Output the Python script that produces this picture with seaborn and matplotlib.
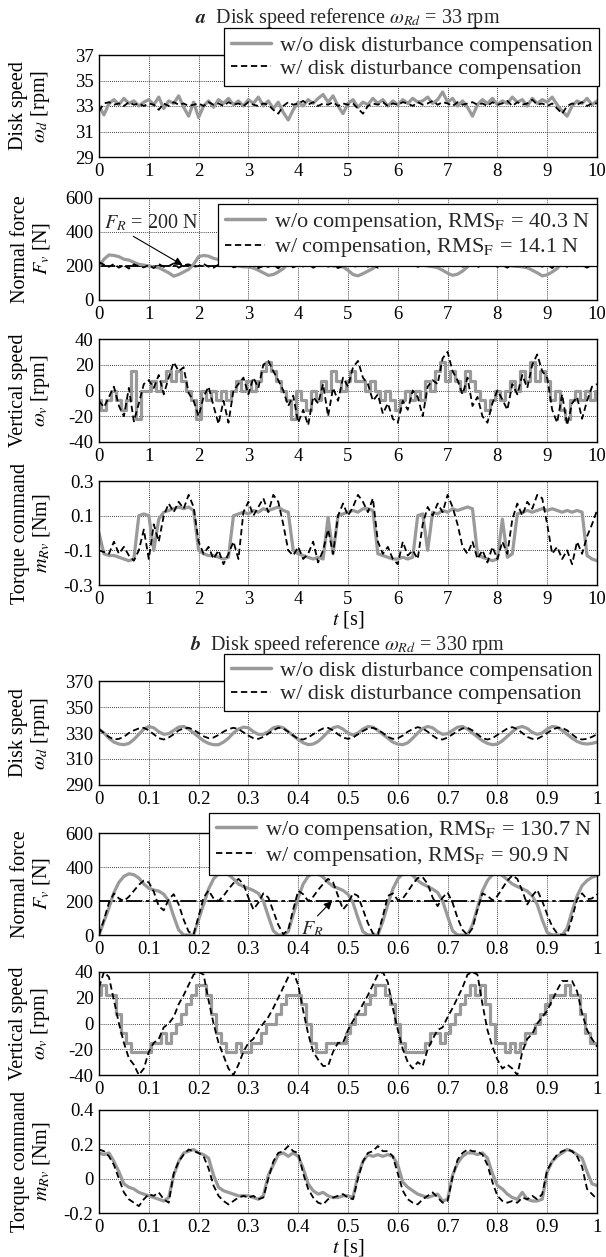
import numpy as np
import matplotlib
matplotlib.use('Agg')
import matplotlib.pyplot as plt
import seaborn as sns
from matplotlib.lines import Line2D

sns.set_theme(style='white')
plt.rcParams['font.family'] = ['Liberation Serif', 'DejaVu Serif']
plt.rcParams['mathtext.fontset'] = 'stix'
plt.rcParams['font.size'] = 13
plt.rcParams['axes.unicode_minus'] = False

# ---------------- data: panel a (omega_Rd = 33 rpm), t = 0..10 s step 0.1 ----------------
a_t = np.linspace(0, 10, 101)

a_speed_wo = [33.0, 32.3, 33.2, 33.5, 33.1, 33.6, 33.2, 33.4, 33.0, 33.3,
              33.5, 33.1, 33.7, 32.8, 33.4, 33.2, 33.8, 32.9, 32.2, 33.3,
              32.1, 33.0, 33.4, 32.9, 33.5, 33.2, 33.6, 33.1, 33.4, 33.0,
              33.5, 33.2, 33.7, 33.0, 33.4, 32.8, 33.3, 32.5, 31.9, 32.7,
              33.3, 33.0, 33.5, 33.2, 33.6, 33.9, 33.3, 33.8, 33.0, 32.4,
              33.2, 33.5, 32.9, 33.3, 33.1, 33.6, 33.2, 33.5, 33.0, 33.4,
              33.1, 33.5, 33.2, 33.6, 33.3, 33.4, 33.7, 33.2, 33.5, 34.1,
              33.3, 33.6, 33.0, 33.4, 32.9, 32.2, 33.1, 33.5, 33.2, 33.6,
              33.1, 33.4, 33.2, 33.7, 33.3, 33.5, 33.0, 33.6, 33.2, 33.5,
              33.3, 33.7, 33.1, 32.6, 32.2, 33.0, 33.4, 33.2, 33.6, 33.1,
              33.4]
a_speed_w = [32.6, 33.2, 33.3, 33.1, 33.2, 33.0, 33.3, 33.1, 33.2, 33.0,
             33.2, 33.1, 32.7, 33.2, 33.0, 33.3, 33.1, 33.2, 33.0, 33.1,
             33.2, 33.0, 33.3, 33.1, 33.2, 33.0, 33.3, 33.1, 33.2, 33.0,
             33.3, 33.1, 33.0, 33.2, 33.1, 32.7, 32.4, 33.0, 33.3, 33.1,
             33.2, 33.4, 33.1, 33.3, 33.0, 33.2, 33.1, 33.3, 33.0, 33.2,
             33.1, 33.2, 32.8, 32.4, 33.0, 33.2, 33.1, 33.3, 33.0, 33.2,
             33.1, 33.3, 33.2, 33.0, 33.3, 33.1, 33.2, 33.4, 33.1, 33.3,
             33.2, 33.0, 33.3, 33.1, 33.2, 33.3, 33.1, 33.2, 33.0, 33.3,
             33.1, 33.2, 33.4, 33.0, 33.3, 33.1, 33.2, 33.5, 33.1, 33.2,
             33.0, 33.2, 32.8, 32.4, 33.0, 33.2, 33.1, 33.3, 33.0, 33.2,
             33.2]
a_force_wo = [200, 240, 265, 262, 255, 240, 235, 222, 210, 205,
              200, 195, 190, 175, 160, 140, 150, 165, 180, 210,
              255, 262, 258, 245, 238, 225, 212, 205, 200, 195,
              195, 188, 175, 160, 145, 150, 165, 185, 215, 262,
              265, 258, 250, 238, 228, 215, 208, 200, 198, 195,
              175, 150, 142, 155, 170, 185, 210, 240, 262, 260,
              255, 245, 235, 222, 212, 205, 200, 196, 190, 175,
              158, 145, 152, 170, 195, 240, 265, 258, 250, 240,
              228, 215, 208, 200, 198, 195, 190, 175, 160, 142,
              148, 165, 185, 225, 262, 268, 262, 255, 245, 232,
              225]
a_force_w = [222, 208, 195, 212, 190, 205, 185, 210, 198, 192,
             205, 188, 212, 195, 200, 215, 190, 205, 210, 195,
             200, 212, 196, 190, 208, 200, 214, 192, 198, 205,
             193, 210, 188, 200, 195, 208, 186, 215, 200, 192,
             205, 197, 212, 190, 203, 214, 196, 205, 188, 200,
             210, 192, 203, 215, 196, 205, 190, 212, 198, 205,
             194, 210, 200, 215, 195, 206, 220, 198, 210, 193,
             215, 200, 212, 196, 205, 218, 192, 208, 200, 212,
             195, 205, 190, 210, 198, 215, 192, 205, 210, 196,
             208, 188, 212, 200, 195, 215, 198, 206, 190, 205,
             198]
a_vspeed_wo = [-7.5, -15, -7.5, 0, -7.5, -15, -7.5, 15, -22.5, 0,
               0, 7.5, 0, 7.5, 15, 7.5, 15, 7.5, 0, -7.5,
               -22.5, 0, -7.5, 0, -7.5, 0, -7.5, 0, 7.5, 0,
               7.5, 0, 7.5, 15, 22.5, 15, 7.5, 0, -7.5, -22.5,
               0, -7.5, -15, 0, -7.5, 7.5, 0, 15, 7.5, 0,
               7.5, 15, 7.5, 7.5, 0, 7.5, 0, -7.5, 0, -7.5,
               -15, -7.5, 0, -7.5, 0, -7.5, 7.5, 0, 15, 22.5,
               7.5, 15, 7.5, 0, 15, 7.5, 0, -7.5, -15, -7.5,
               0, -7.5, 0, 7.5, 0, 15, 7.5, 22.5, 7.5, 15,
               7.5, -7.5, 0, -15, -22.5, -7.5, 0, -7.5, 0, -7.5,
               0]
a_vspeed_w = [-8, -13, -5, 3, -12, -20, 2, -24, -10, 5,
              8, 2, 12, -3, 10, 22, 15, 18, -2, -8,
              -20, -5, 3, -12, -26, -8, -25, 0, 5, 10,
              -3, 10, 2, 20, 23, 15, 8, 0, -12, -4,
              -25, -15, -27, -5, -10, 5, -20, 2, -8, 10,
              3, 18, 23, 10, 5, -8, -3, -18, -10, -22,
              -25, -8, -15, 0, -5, -20, 3, 8, 5, 25,
              30, 15, 8, -3, 10, -12, -5, -20, -25, -10,
              0, -7, -15, 5, -3, 12, 2, 20, 28, 15,
              10, -15, -25, -3, -27, -10, -5, -22, -8, 3,
              5]
a_torque_wo = [0.0, -0.12, -0.13, -0.13, -0.14, -0.15, -0.16, -0.15, 0.10, 0.11,
               0.10, -0.10, 0.08, 0.12, 0.13, 0.14, 0.15, 0.14, 0.15, 0.13,
               -0.10, -0.12, -0.13, -0.13, -0.14, -0.15, -0.14, 0.10, 0.11, 0.12,
               0.11, 0.13, 0.12, 0.14, 0.13, 0.14, 0.15, 0.13, 0.12, -0.10,
               -0.12, -0.13, -0.14, -0.15, -0.14, -0.15, 0.09, -0.12, 0.10, 0.11,
               0.12, 0.13, 0.12, 0.14, 0.14, 0.13, -0.12, -0.13, -0.14, -0.15,
               -0.15, -0.14, -0.15, -0.14, 0.10, 0.11, -0.10, 0.12, 0.11, 0.13,
               0.12, 0.14, 0.13, 0.14, 0.15, 0.14, -0.12, -0.14, -0.15, -0.16,
               -0.15, 0.08, -0.14, -0.12, 0.11, 0.12, 0.13, 0.12, 0.13, 0.14,
               0.13, 0.14, 0.13, 0.12, 0.13, 0.12, 0.13, 0.12, -0.13, -0.15,
               -0.16]
a_torque_w = [-0.10, -0.11, -0.12, -0.05, -0.12, -0.08, -0.13, -0.16, -0.10, 0.02,
              -0.15, 0.05, -0.05, 0.10, 0.17, 0.12, 0.18, 0.14, 0.22, 0.15,
              -0.05, -0.12, -0.08, -0.15, -0.10, -0.18, -0.12, -0.05, -0.15, 0.12,
              0.18, 0.10, 0.15, 0.20, 0.12, 0.22, 0.18, 0.05, -0.10, -0.13,
              -0.08, -0.15, -0.12, -0.05, -0.17, -0.10, 0.02, -0.12, 0.10, 0.17,
              0.10, 0.15, 0.22, 0.18, 0.12, 0.20, -0.05, -0.12, -0.08, -0.15,
              -0.18, -0.05, -0.13, -0.10, -0.15, 0.05, 0.15, 0.10, 0.17, 0.12,
              0.22, 0.15, 0.05, -0.08, -0.12, -0.05, -0.15, -0.10, -0.17, -0.08,
              -0.15, -0.05, -0.12, 0.08, 0.17, 0.10, 0.18, 0.14, 0.22, 0.20,
              0.05, -0.12, -0.08, -0.15, -0.10, -0.18, -0.05, -0.12, -0.02, 0.05,
              0.13]

# ---------------- data: panel b (omega_Rd = 330 rpm), t = 0..1 s step 0.01 ----------------
b_t = np.linspace(0, 1, 101)

b_speed_wo = [333, 330, 326, 323, 321.5, 321, 322, 325, 329, 333,
              335, 334, 331, 329, 329.5, 332, 334.5, 335, 333, 330,
              327, 324, 322, 321, 321, 323, 326, 330, 333, 334.5,
              334, 331, 329, 329, 331, 334, 335, 334, 331, 328,
              325, 322.5, 321, 321.5, 323.5, 327, 331, 334, 335, 333,
              330, 328.5, 330, 333, 335, 334.5, 332, 329, 326, 323,
              321.5, 321, 322.5, 326, 330, 333.5, 335, 334, 331, 329,
              329.5, 332, 334.5, 335, 333, 330, 327, 324, 322, 321,
              321.5, 324, 327.5, 331, 334, 335, 333.5, 330.5, 329, 330,
              333, 335, 334.5, 332, 329, 326, 323.5, 322, 321.5, 322,
              323]
b_speed_w = [333, 330, 327, 325, 325.5, 327, 330, 332, 333.5, 334,
             332, 329, 326, 325, 326.5, 329, 332, 333.5, 334, 332.5,
             330, 327.5, 326, 326.5, 328.5, 331, 333, 334, 333, 330.5,
             328, 326, 325.5, 327, 329.5, 332, 334, 333.5, 331, 328,
             325.5, 325, 326.5, 329, 331.5, 333.5, 334, 332, 329, 326.5,
             325.5, 326.5, 329, 331.5, 333.5, 334, 332.5, 330, 327, 325.5,
             326, 328, 331, 333, 334.5, 333.5, 331, 328, 325.5, 325,
             326.5, 329, 331.5, 333.5, 334, 332, 329, 326, 325, 326,
             328.5, 331, 333.5, 334.5, 333, 330, 327, 325.5, 325.5, 327.5,
             330, 332.5, 334, 334, 332, 329, 326, 325, 325.5, 327,
             329]
b_force_wo = [0, 80, 160, 250, 310, 345, 360, 355, 335, 300,
              275, 265, 258, 240, 200, 110, 30, 0, 0, 0,
              90, 180, 270, 330, 360, 368, 355, 330, 300, 285,
              275, 262, 245, 200, 110, 25, 0, 0, 20, 120,
              220, 300, 345, 365, 360, 340, 310, 285, 275, 262,
              240, 190, 100, 20, 0, 0, 0, 80, 180, 270,
              330, 360, 365, 350, 320, 300, 285, 270, 250, 200,
              110, 25, 0, 0, 0, 60, 160, 260, 320, 355,
              362, 350, 325, 300, 285, 272, 258, 230, 180, 90,
              15, 0, 0, 0, 40, 140, 230, 290, 320, 340,
              350]
b_force_w = [0, 90, 190, 245, 215, 200, 225, 260, 295, 320,
             310, 255, 170, 145, 210, 240, 180, 90, 20, 5,
             110, 220, 262, 215, 200, 230, 270, 305, 330, 300,
             220, 150, 190, 245, 220, 140, 60, 5, 30, 150,
             260, 240, 200, 225, 265, 300, 330, 310, 230, 150,
             185, 245, 230, 150, 70, 10, 5, 110, 230, 245,
             205, 215, 255, 300, 335, 340, 300, 220, 170, 220,
             250, 190, 100, 30, 0, 40, 150, 245, 230, 205,
             230, 275, 320, 350, 330, 260, 180, 230, 265, 200,
             120, 50, 10, 0, 5, 100, 210, 245, 210, 215,
             240]
b_vspeed_wo = [22.5, 30, 22.5, 22.5, 7.5, -7.5, -15, -22.5, -22.5, -22.5,
               -22.5, -15, -15, -7.5, -15, -7.5, 0, 7.5, 15, 22.5,
               30, 30, 22.5, 7.5, -7.5, -15, -22.5, -22.5, -15, -22.5,
               -22.5, -15, -15, -7.5, 0, 0, 7.5, 15, 22.5, 22.5,
               22.5, 15, 0, -15, -22.5, -22.5, -15, -15, -15, -15,
               -7.5, 0, 7.5, 7.5, 15, 22.5, 30, 30, 22.5, 15,
               0, -15, -22.5, -22.5, -22.5, -22.5, -15, -7.5, -7.5, -15,
               -7.5, 0, 7.5, 15, 22.5, 30, 22.5, 30, 15, 0,
               -15, -15, -22.5, -15, -22.5, -15, -7.5, -7.5, 0, 7.5,
               15, 22.5, 22.5, 22.5, 30, 22.5, 22.5, 7.5, -7.5, -15,
               -15]
b_vspeed_w = [28, 40, 36, 18, 0, -15, -27, -32, -40, -35,
              -22, -15, -12, -3, 0, 5, 15, 22, 30, 38,
              40, 38, 18, 0, -15, -25, -35, -40, -32, -22,
              -15, -12, -5, 0, 5, 12, 20, 28, 36, 40,
              30, 10, -8, -22, -28, -33, -33, -22, -15, -15,
              -5, 2, 8, 15, 22, 30, 38, 40, 32, 12,
              -5, -20, -30, -35, -30, -33, -20, -12, -5, -3,
              5, 12, 20, 28, 38, 40, 38, 15, -5, -18,
              -28, -35, -32, -35, -40, -22, -12, -8, 0, 5,
              10, 18, 26, 33, 33, 33, 25, 8, -5, -12,
              -18]
b_torque_wo = [0.15, 0.14, 0.15, 0.10, 0.04, -0.03, -0.05, -0.06, -0.08, -0.09,
               -0.10, -0.11, -0.12, -0.13, -0.11, 0.02, 0.10, 0.15, 0.16, 0.17,
               0.15, 0.14, 0.12, 0.02, -0.05, -0.07, -0.08, -0.09, -0.10, -0.10,
               -0.10, -0.11, -0.12, -0.10, 0.02, 0.08, 0.14, 0.15, 0.13, 0.15,
               0.13, 0.06, -0.03, -0.07, -0.09, -0.08, -0.10, -0.11, -0.11, -0.10,
               -0.10, -0.11, 0.02, 0.10, 0.14, 0.13, 0.14, 0.13, 0.14, 0.13,
               0.08, -0.02, -0.05, -0.07, -0.09, -0.10, -0.11, -0.10, -0.09, -0.13,
               -0.12, 0.02, 0.09, 0.13, 0.15, 0.15, 0.14, 0.15, 0.12, 0.03,
               -0.04, -0.06, -0.09, -0.11, -0.12, -0.08, -0.12, -0.13, -0.13, -0.12,
               0.04, 0.10, 0.13, 0.15, 0.17, 0.16, 0.14, 0.12, 0.04, -0.03,
               -0.04]
b_torque_w = [0.17, 0.16, 0.13, 0.08, 0.0, -0.08, -0.12, -0.14, -0.16, -0.12,
              -0.09, -0.10, -0.08, -0.12, -0.14, 0.03, 0.10, 0.14, 0.17, 0.16,
              0.15, 0.13, 0.06, -0.04, -0.10, -0.13, -0.15, -0.13, -0.11, -0.10,
              -0.11, -0.10, -0.12, -0.11, 0.0, 0.10, 0.15, 0.16, 0.19, 0.16,
              0.15, 0.03, -0.06, -0.11, -0.14, -0.15, -0.12, -0.11, -0.10, -0.09,
              -0.11, -0.12, 0.0, 0.10, 0.15, 0.16, 0.19, 0.16, 0.16, 0.13,
              0.03, -0.07, -0.12, -0.14, -0.15, -0.12, -0.10, -0.08, -0.11, -0.14,
              -0.13, 0.01, 0.11, 0.15, 0.17, 0.16, 0.16, 0.14, 0.08, -0.02,
              -0.10, -0.13, -0.14, -0.13, -0.14, -0.11, -0.12, -0.10, -0.12, -0.09,
              0.05, 0.10, 0.14, 0.16, 0.17, 0.16, 0.13, 0.07, -0.06, -0.09,
              -0.12]

force_ref = 200

a_xticks = [0, 1, 2, 3, 4, 5, 6, 7, 8, 9, 10]
a_xticklabels = ['0', '1', '2', '3', '4', '5', '6', '7', '8', '9', '10']
b_xticks = [0, 0.1, 0.2, 0.3, 0.4, 0.5, 0.6, 0.7, 0.8, 0.9, 1.0]
b_xticklabels = ['0', '0.1', '0.2', '0.3', '0.4', '0.5', '0.6', '0.7', '0.8', '0.9', '1']

ylabels = ['Disk speed\n$\\omega_d$ [rpm]', 'Normal force\n$F_v$ [N]',
           'Vertical speed\n$\\omega_v$ [rpm]', 'Torque command\n$m_{Rv}$ [Nm]']

leg_disk = ['w/o disk disturbance compensation', 'w/ disk disturbance compensation']
leg_a_force = ['w/o compensation, RMS$_\\mathrm{F}$ = 40.3 N', 'w/ compensation, RMS$_\\mathrm{F}$ = 14.1 N']
leg_b_force = ['w/o compensation, RMS$_\\mathrm{F}$ = 130.7 N', 'w/ compensation, RMS$_\\mathrm{F}$ = 90.9 N']

# ---------------- styling ----------------
GRAY = '#9a9a9a'
DASH = (0, (3.5, 2.0))
W, H = 606, 1257
fig = plt.figure(figsize=(W / 100, H / 100), dpi=100)

def add_ax(top, bottom):
    return fig.add_axes([99 / W, 1 - bottom / H, 498 / W, (bottom - top) / H])

def style(ax, xlim, xticks, xtl, ylim, yticks, ytl, ylabel):
    ax.set_xlim(xlim)
    ax.set_ylim(ylim)
    ax.set_xticks(xticks)
    ax.set_xticklabels(xtl)
    ax.set_yticks(yticks)
    ax.set_yticklabels(ytl)
    ax.grid(True, color='black', linestyle=(0, (1, 1.5)), linewidth=0.6)
    ax.set_axisbelow(True)
    for s in ax.spines.values():
        s.set_visible(True)
        s.set_color('black')
        s.set_linewidth(1.0)
    ax.tick_params(direction='in', length=0, labelsize=13.5, pad=4, colors='black')
    ax.set_facecolor('white')
    ax.set_ylabel(ylabel, fontsize=14.5, linespacing=1.05, color='black')
    ax.yaxis.set_label_coords(-0.094, 0.5)
    ax.set_xlabel('')

def lines(ax, t, wo, w, steps=False):
    kw = dict(drawstyle='steps-mid') if steps else {}
    sns.lineplot(x=t, y=wo, ax=ax, color=GRAY, linewidth=2.3, estimator=None, **kw)
    sns.lineplot(x=t, y=w, ax=ax, color='black', linewidth=1.3, linestyle=DASH, estimator=None)

def legend(ax, labels, anchor):
    h = [Line2D([], [], color=GRAY, linewidth=2.5),
         Line2D([], [], color='black', linewidth=1.3, linestyle=DASH)]
    lg = ax.legend(h, labels, loc='upper right', bbox_to_anchor=anchor, frameon=True,
                   fancybox=False, edgecolor='black', framealpha=1, borderpad=0.3,
                   labelspacing=0.12, handlelength=1.8, handletextpad=0.4,
                   borderaxespad=0, fontsize=16)
    lg.get_frame().set_linewidth(0.9)
    lg.set_zorder(10)

tops = {'a': [(55, 157), (198, 300), (339, 442), (481, 585)],
        'b': [(681, 785), (833, 935), (972, 1075), (1110, 1213)]}

for part in ['a', 'b']:
    if part == 'a':
        t, xl, xt, xtl = a_t, (0, 10), a_xticks, a_xticklabels
        data = [(a_speed_wo, a_speed_w), (a_force_wo, a_force_w),
                (a_vspeed_wo, a_vspeed_w), (a_torque_wo, a_torque_w)]
        ylims = [(29, 37), (0, 600), (-40, 40), (-0.3, 0.3)]
        yt = [[29, 31, 33, 35, 37], [0, 200, 400, 600], [-40, -20, 0, 20, 40], [-0.3, -0.1, 0.1, 0.3]]
        ytl = [['29', '31', '33', '35', '37'], ['0', '200', '400', '600'],
               ['-40', '-20', '0', '20', '40'], ['-0.3', '-0.1', '0.1', '0.3']]
        flegend = leg_a_force
        title = '$\\mathbfit{a}$  Disk speed reference $\\omega_{Rd}$ = 33 rpm'
        title_y = 18
    else:
        t, xl, xt, xtl = b_t, (0, 1), b_xticks, b_xticklabels
        data = [(b_speed_wo, b_speed_w), (b_force_wo, b_force_w),
                (b_vspeed_wo, b_vspeed_w), (b_torque_wo, b_torque_w)]
        ylims = [(290, 370), (0, 600), (-40, 40), (-0.2, 0.4)]
        yt = [[290, 310, 330, 350, 370], [0, 200, 400, 600], [-40, -20, 0, 20, 40], [-0.2, 0, 0.2, 0.4]]
        ytl = [['290', '310', '330', '350', '370'], ['0', '200', '400', '600'],
               ['-40', '-20', '0', '20', '40'], ['-0.2', '0', '0.2', '0.4']]
        flegend = leg_b_force
        title = '$\\mathbfit{b}$  Disk speed reference $\\omega_{Rd}$ = 330 rpm'
        title_y = 645
    axes = []
    for i, (top, bot) in enumerate(tops[part]):
        ax = add_ax(top, bot)
        wo, w = data[i]
        if i == 1:
            ax.axhline(force_ref, color='black', linewidth=1.3, linestyle=(0, (9, 2, 2, 2)), zorder=1.5)
        lines(ax, t, wo, w, steps=(i == 2))
        style(ax, xl, xt, xtl, ylims[i], yt[i], ytl[i], ylabels[i])
        axes.append(ax)
    legend(axes[0], leg_disk, (1.004, 1.26))
    legend(axes[1], flegend, (1.0, 0.94) if part == 'a' else (1.004, 1.2))
    axes[3].set_xlabel('$t$ [s]', fontsize=14.5, labelpad=1, color='black')
    fig.text(348 / W, 1 - title_y / H, title, ha='center', va='center', fontsize=14.5)
    if part == 'a':
        axes[1].annotate('$F_R$ = 200 N', xy=(1.68, 205), xytext=(0.1, 455),
                         fontsize=14.5, ha='left', va='center',
                         arrowprops=dict(arrowstyle='-|>', color='black', lw=0.8,
                                         mutation_scale=12, shrinkA=0, shrinkB=0,
                                         relpos=(0.25, 0.0)))
    else:
        axes[1].annotate('$F_R$', xy=(0.468, 200), xytext=(0.405, 35),
                         fontsize=14.5, ha='left', va='center',
                         arrowprops=dict(arrowstyle='-|>', color='black', lw=0.8,
                                         mutation_scale=12, shrinkA=0, shrinkB=0,
                                         relpos=(0.6, 1.0)))

fig.savefig('out.png', dpi=100, facecolor='white')
